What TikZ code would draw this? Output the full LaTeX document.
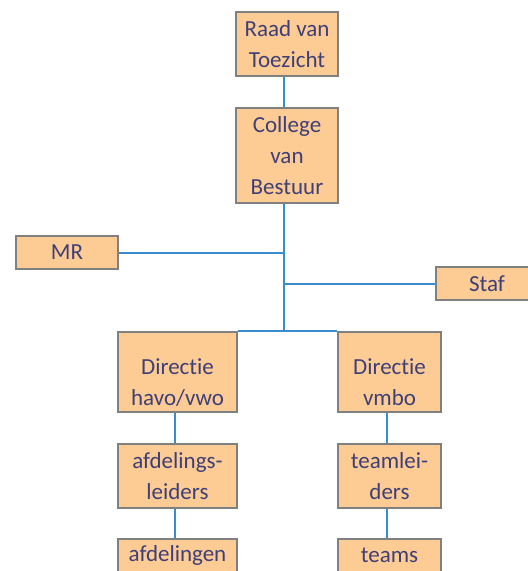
\documentclass[tikz,border=0pt]{standalone}
\usepackage{fontspec}
\setmainfont{Carlito}[Ligatures=NoCommon]
\definecolor{boxfill}{HTML}{FDCB94}
\definecolor{boxgray}{HTML}{808080}
\definecolor{textblue}{HTML}{3F3F78}
\definecolor{lineblue}{HTML}{3A8DCC}
\begin{document}
\begin{tikzpicture}[x=1pt,y=-1pt,
    main node/.style={rectangle,draw=boxgray,fill=boxfill,line width=2pt,text=textblue,
      font=\fontsize{23}{31}\selectfont,align=center,inner sep=0pt},
    link/.style={-,draw=lineblue,line width=2pt}]
  \useasboundingbox (0,0) rectangle (528,571);
  % top
  \node[main node,minimum width=102pt,minimum height=64pt] (raad) at (287,44) {Raad van\\Toezicht};
  \node[main node,minimum width=102pt,minimum height=95pt] (cvb) at (287,155.5) {College\\van\\Bestuur};
  % sides
  \node[main node,minimum width=102pt,minimum height=33pt] (mr) at (67,252.5) {MR};
  \node[main node,minimum width=102pt,minimum height=33pt] (staf) at (487,283.5) {Staf};
  % havo/vwo
  \node[main node,minimum width=119pt,minimum height=80pt] (dirhv) at (177.5,372) {\rule{0pt}{36pt}Directie\\havo/vwo};
  \node[main node,minimum width=119pt,minimum height=64pt] (afdl) at (177.5,476) {afdelings-\\leiders};
  \node[main node,minimum width=119pt,minimum height=33pt] (afd) at (177.5,555.5) {afdelingen};
  % vmbo
  \node[main node,minimum width=103pt,minimum height=80pt] (dirvm) at (389.5,372) {\rule{0pt}{36pt}Directie\\vmbo};
  \node[main node,minimum width=103pt,minimum height=64pt] (tl) at (389.5,476) {teamlei-\\ders};
  \node[main node,minimum width=103pt,minimum height=33pt] (teams) at (389.5,555.5) {teams};
  \coordinate (trunk) at (284,332);
  \path[link] (raad.south -| trunk) edge (cvb.north -| trunk);
  \path[link] (cvb.south -| trunk) edge (trunk);
  \path[link] (mr.east) edge (mr.east -| trunk);
  \path[link] (staf.west) edge (staf.west -| trunk);
  \path[link] (dirhv.north east) edge (dirvm.north west);
  \path[link] ([xshift=-2.5pt]dirhv.south) edge ([xshift=-2.5pt]afdl.north);
  \path[link] ([xshift=-2.5pt]afdl.south) edge ([xshift=-2.5pt]afd.north);
  \path[link] ([xshift=-3pt]dirvm.south) edge ([xshift=-3pt]tl.north);
  \path[link] ([xshift=-3pt]tl.south) edge ([xshift=-3pt]teams.north);
\end{tikzpicture}
\end{document}
